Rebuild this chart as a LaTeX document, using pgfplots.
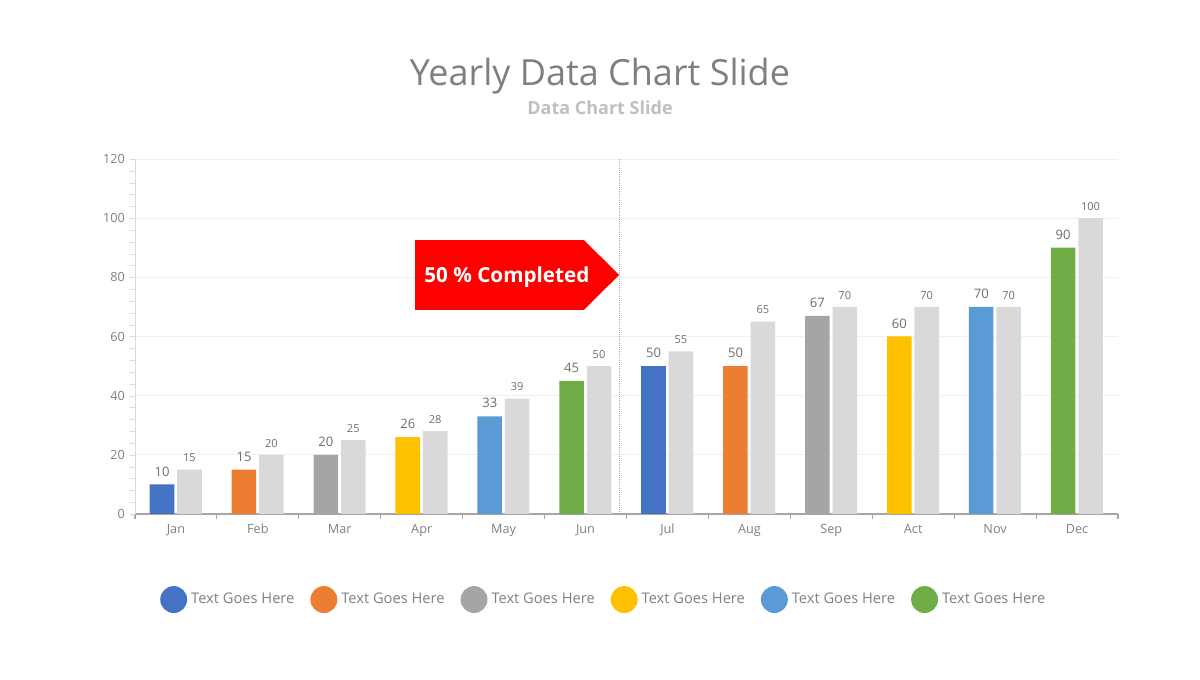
\documentclass[border=0pt]{standalone}
\usepackage{pgfplots}
\pgfplotsset{compat=1.18}
\usepackage{fontspec}
\setmainfont{Open Sans}
\definecolor{c1}{HTML}{4472C4}
\definecolor{c2}{HTML}{ED7D31}
\definecolor{c3}{HTML}{A5A5A5}
\definecolor{c4}{HTML}{FFC000}
\definecolor{c5}{HTML}{5B9BD5}
\definecolor{c6}{HTML}{70AD47}
\definecolor{lg}{HTML}{D9D9D9}
\definecolor{titlegray}{HTML}{7F7F7F}
\definecolor{subgray}{HTML}{BFBFBF}
\definecolor{labgray}{HTML}{7F7F7F}
\definecolor{datgray}{HTML}{6E6E6E}
\definecolor{axgray}{HTML}{A6A6A6}
\definecolor{gridc}{HTML}{F0F0F0}
\definecolor{arrowred}{HTML}{FF0000}
\begin{document}
\begin{tikzpicture}
\path[use as bounding box] (0,0) rectangle (900pt,510pt);
\node[text=titlegray, font=\fontsize{27}{30}\selectfont] at (450pt,453pt) {Yearly Data Chart Slide};
\node[text=subgray, font=\bfseries\fontsize{13.5}{15}\selectfont] at (450pt,429pt) {Data Chart Slide};
\begin{axis}[
  at={(101.25pt,124.5pt)}, anchor=south west,
  scale only axis, width=737.25pt, height=266.25pt,
  xmin=-0.5, xmax=11.5, ymin=0, ymax=120,
  ytick={0,20,...,120},
  minor y tick num=4,
  axis x line*=bottom, axis y line*=left,
  x axis line style={draw=axgray, line width=0.8pt, -},
  y axis line style={draw=lg, line width=0.5pt, -},
  ymajorgrids, grid style={draw=gridc, line width=0.6pt},
  xtick={0,...,11},
  xticklabels={Jan,Feb,Mar,Apr,May,Jun,Jul,Aug,Sep,Act,Nov,Dec},
  minor xtick={-0.5,0.5,...,11.5},
  major x tick style={draw=none},
  minor x tick style={draw=axgray, line width=0.8pt},
  major y tick style={draw=lg},
  minor y tick style={draw=lg},
  tick align=outside,
  major tick length=4pt, minor tick length=4pt,
  ticklabel style={text=labgray, font=\fontsize{9.5}{11}\selectfont},
  /pgf/number format/assume math mode=true,
  legend columns=6,
  legend style={at={(0.0254,-0.241)}, anchor=west, draw=none, fill=none, inner sep=0pt,
    font=\fontsize{11}{13}\selectfont, text=labgray,
    /tikz/every even column/.append style={column sep=9pt},
    nodes={inner xsep=3pt}},
  legend image code/.code={\fill[#1] (10.1pt,0) circle (10.1pt);},
  clip=false,
]
\pgfplotsset{
  colbar/.style={ybar, bar width=0.3, bar shift=-0.17, draw=none, fill=#1,
    nodes near coords,
    every node near coord/.style={font=\fontsize{9.8}{11}\selectfont, text=datgray, anchor=south, inner sep=3pt, xshift=-10.4pt, yshift=3pt}},
}
\addplot[colbar=c1] coordinates {(0,10) (6,50)};
\addplot[colbar=c2] coordinates {(1,15) (7,50)};
\addplot[colbar=c3] coordinates {(2,20) (8,67)};
\addplot[colbar=c4] coordinates {(3,26) (9,60)};
\addplot[colbar=c5] coordinates {(4,33) (10,70)};
\addplot[colbar=c6] coordinates {(5,45) (11,90)};
\legend{Text Goes Here,Text Goes Here,Text Goes Here,Text Goes Here,Text Goes Here,Text Goes Here}
\addplot[ybar, bar width=0.3, bar shift=0.165, draw=none, fill=lg, forget plot,
    nodes near coords,
    every node near coord/.style={font=\fontsize{8.3}{9}\selectfont, text=datgray, anchor=south, inner sep=3pt, xshift=10.1pt, yshift=2.5pt}]
  coordinates {(0,15) (1,20) (2,25) (3,28) (4,39) (5,50) (6,55) (7,65) (8,70) (9,70) (10,70) (11,100)};
\draw[densely dotted, draw=axgray, line width=0.6pt] (axis cs:5.41,0) -- (axis cs:5.41,120);
\fill[arrowred] (axis cs:2.92,92.6) -- (axis cs:4.98,92.6) -- (axis cs:5.41,80.8) -- (axis cs:4.98,69.0) -- (axis cs:2.92,69.0) -- cycle;
\node[text=white, font=\bfseries\fontsize{15.5}{17}\selectfont] at (axis cs:4.04,80.0) {50 \% Completed};
\end{axis}
\end{tikzpicture}
\end{document}
